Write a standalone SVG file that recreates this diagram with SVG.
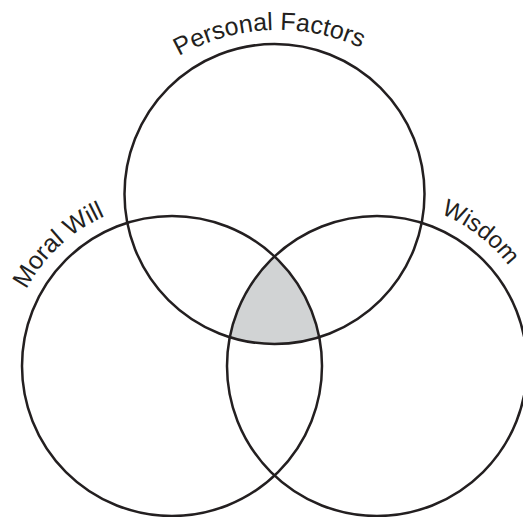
<svg xmlns="http://www.w3.org/2000/svg" width="523" height="517" viewBox="0 0 523 517">
<style>
.c{fill:none;stroke:#231f20;stroke-width:2.5}
.lbl{font-family:"Liberation Sans",Arial,sans-serif;font-size:25px;fill:#231f20}
.sm{font-size:24px}
</style>
<defs>
<path id="pPF" d="M119.1 108.5 A200 200 0 0 1 425.2 94.6"/>
<path id="pMW" d="M7.2 375.6 A165 165 0 0 1 192.1 203.2"/>
<path id="pW" d="M414.3 205.3 A166 166 0 0 1 523.6 289.1"/>
</defs>
<rect width="523" height="517" fill="#fff"/>
<g id="overlap">
<path d="M274.5 256.5 A150 150 0 0 0 229.8 337.2 A150 150 0 0 0 319.2 337.2 A150 150 0 0 0 274.5 256.5 Z" fill="#d1d3d4"/>
</g>
<g id="personal-factors">
<circle class="c" cx="274.5" cy="194" r="150"/>
<text class="lbl"><textPath href="#pPF" startOffset="50%" text-anchor="middle">Personal Factors</textPath></text>
</g>
<g id="moral-will">
<circle class="c" cx="172" cy="366" r="150"/>
<text class="lbl"><textPath href="#pMW" startOffset="50%" text-anchor="middle">Moral Will</textPath></text>
</g>
<g id="wisdom">
<circle class="c" cx="377" cy="366" r="150"/>
<text class="lbl sm"><textPath href="#pW" startOffset="50%" text-anchor="middle">Wisdom</textPath></text>
</g>
</svg>
